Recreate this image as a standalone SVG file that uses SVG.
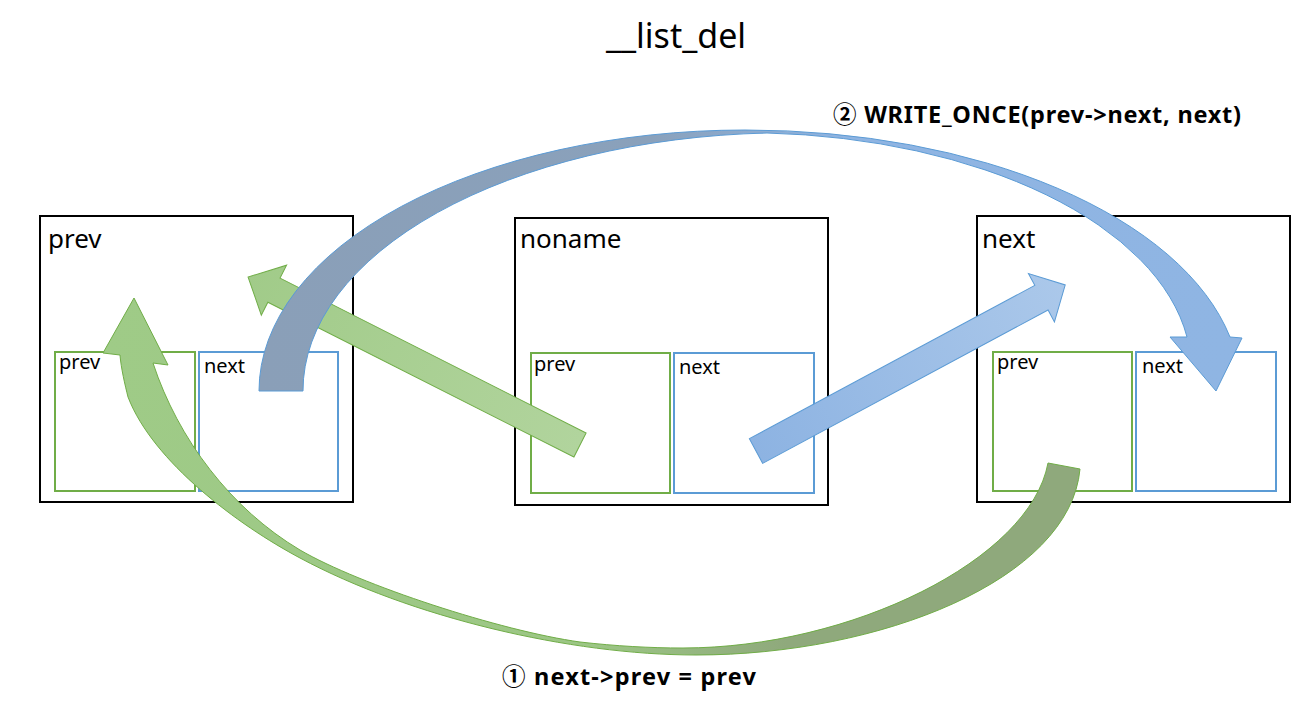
<svg xmlns="http://www.w3.org/2000/svg" width="1291" height="706" viewBox="0 0 1291 706">
<style>
.big{fill:none;stroke:#000;stroke-width:2}
.sp{fill:none;stroke:#70ad47;stroke-width:2}
.sn{fill:none;stroke:#5b9bd5;stroke-width:2}
.lbl{font-family:"Noto Sans","Open Sans","Noto Sans CJK KR",sans-serif;fill:#000}
.t1{font-size:26px}
.t2{font-size:20px}
.cap{font-family:"Noto Sans","Noto Sans CJK KR",sans-serif;font-weight:bold;font-size:23.5px;fill:#000}
.ga{stroke:#70ad47;stroke-width:1}
.ba{stroke:#5b9bd5;stroke-width:1}
</style>
<defs>
<linearGradient id="gStraight" x1="0" y1="0" x2="1" y2="0">
<stop offset="0" stop-color="#b1d49d"/>
<stop offset="1" stop-color="#a1cb89"/>
</linearGradient>
<linearGradient id="bStraight" x1="0" y1="0" x2="1" y2="0">
<stop offset="0" stop-color="#8db3e2"/>
<stop offset="1" stop-color="#abc8ea"/>
</linearGradient>
<linearGradient id="bArc" gradientUnits="userSpaceOnUse" x1="259" y1="0" x2="1242" y2="0">
<stop offset="0" stop-color="#8a9fb8"/>
<stop offset="0.4" stop-color="#8aa1bb"/>
<stop offset="0.6" stop-color="#8fb4e2"/>
<stop offset="1" stop-color="#8fb5e3"/>
</linearGradient>
<linearGradient id="gArc" gradientUnits="userSpaceOnUse" x1="103" y1="0" x2="1080" y2="0">
<stop offset="0" stop-color="#9fcb87"/>
<stop offset="0.5" stop-color="#9cc685"/>
<stop offset="0.7" stop-color="#8fa97c"/>
<stop offset="1" stop-color="#8fa97c"/>
</linearGradient>
</defs>
<rect width="1291" height="706" fill="#fff"/>
<text class="lbl" x="676" y="48" font-size="34" text-anchor="middle">__list_del</text>

<g id="node-prev">
<rect class="big" x="40" y="216" width="313" height="286"/>
<text class="lbl t1" x="48" y="248">prev</text>
<g id="node-prev-prev"><rect class="sp" x="55" y="352" width="140" height="139"/><text class="lbl t2" x="59" y="369">prev</text></g>
<g id="node-prev-next"><rect class="sn" x="199" y="352" width="139" height="139"/><text class="lbl t2" x="204" y="373">next</text></g>
</g>
<g id="node-noname">
<rect class="big" x="515" y="218" width="313" height="287"/>
<text class="lbl t1" x="520" y="248">noname</text>
<g id="node-noname-prev"><rect class="sp" x="531" y="353" width="139" height="140"/><text class="lbl t2" x="534" y="371">prev</text></g>
<g id="node-noname-next"><rect class="sn" x="674" y="353" width="140" height="140"/><text class="lbl t2" x="679" y="374">next</text></g>
</g>
<g id="node-next">
<rect class="big" x="977" y="216" width="313" height="286"/>
<text class="lbl t1" x="982" y="248">next</text>
<g id="node-next-prev"><rect class="sp" x="993" y="352" width="139" height="139"/><text class="lbl t2" x="997" y="369">prev</text></g>
<g id="node-next-next"><rect class="sn" x="1136" y="352" width="140" height="139"/><text class="lbl t2" x="1142" y="373">next</text></g>
</g>

<g id="connectors">
<polygon class="ga" fill="url(#gStraight)" transform="translate(580 445) rotate(206.84)" points="0,-13.5 343,-13.5 343,-28 372,0 343,28 343,13.5 0,13.5"/>
<polygon class="ba" fill="url(#bStraight)" transform="translate(756 451) rotate(-28.24)" points="0,-14 324,-14 324,-27.5 351,0 324,27.5 324,14 0,14"/>
<path class="ga" fill="url(#gArc)" d="M1048 463 L1080 469 C1070 580 880 655 696 655 C570 655 410 617 300 558 C238 525 153 462 128 397 C125 385 121 368 120 355 L103 353 L134 298 L168 365 L153 363 C178 439 231 509 300 550 C360 585 501 631 580 642 C615 646 650 648 683 648 C850 648 1030 560 1048 463 Z"/>
<path class="ba" fill="url(#bArc)" d="M259 391 A486 261 0 0 1 745 130 A495 261 0 0 1 1230 337 L1242 338 L1216 391 L1170 337 L1187 337 A446 237 0 0 0 767 133 A486 258 0 0 0 303 391 Z"/>
</g>

<text class="cap" x="833" y="123" textLength="408" lengthAdjust="spacing">② WRITE_ONCE(prev-&gt;next, next)</text>
<text class="cap" x="502" y="685" textLength="254" lengthAdjust="spacing">① next-&gt;prev = prev</text>
</svg>
